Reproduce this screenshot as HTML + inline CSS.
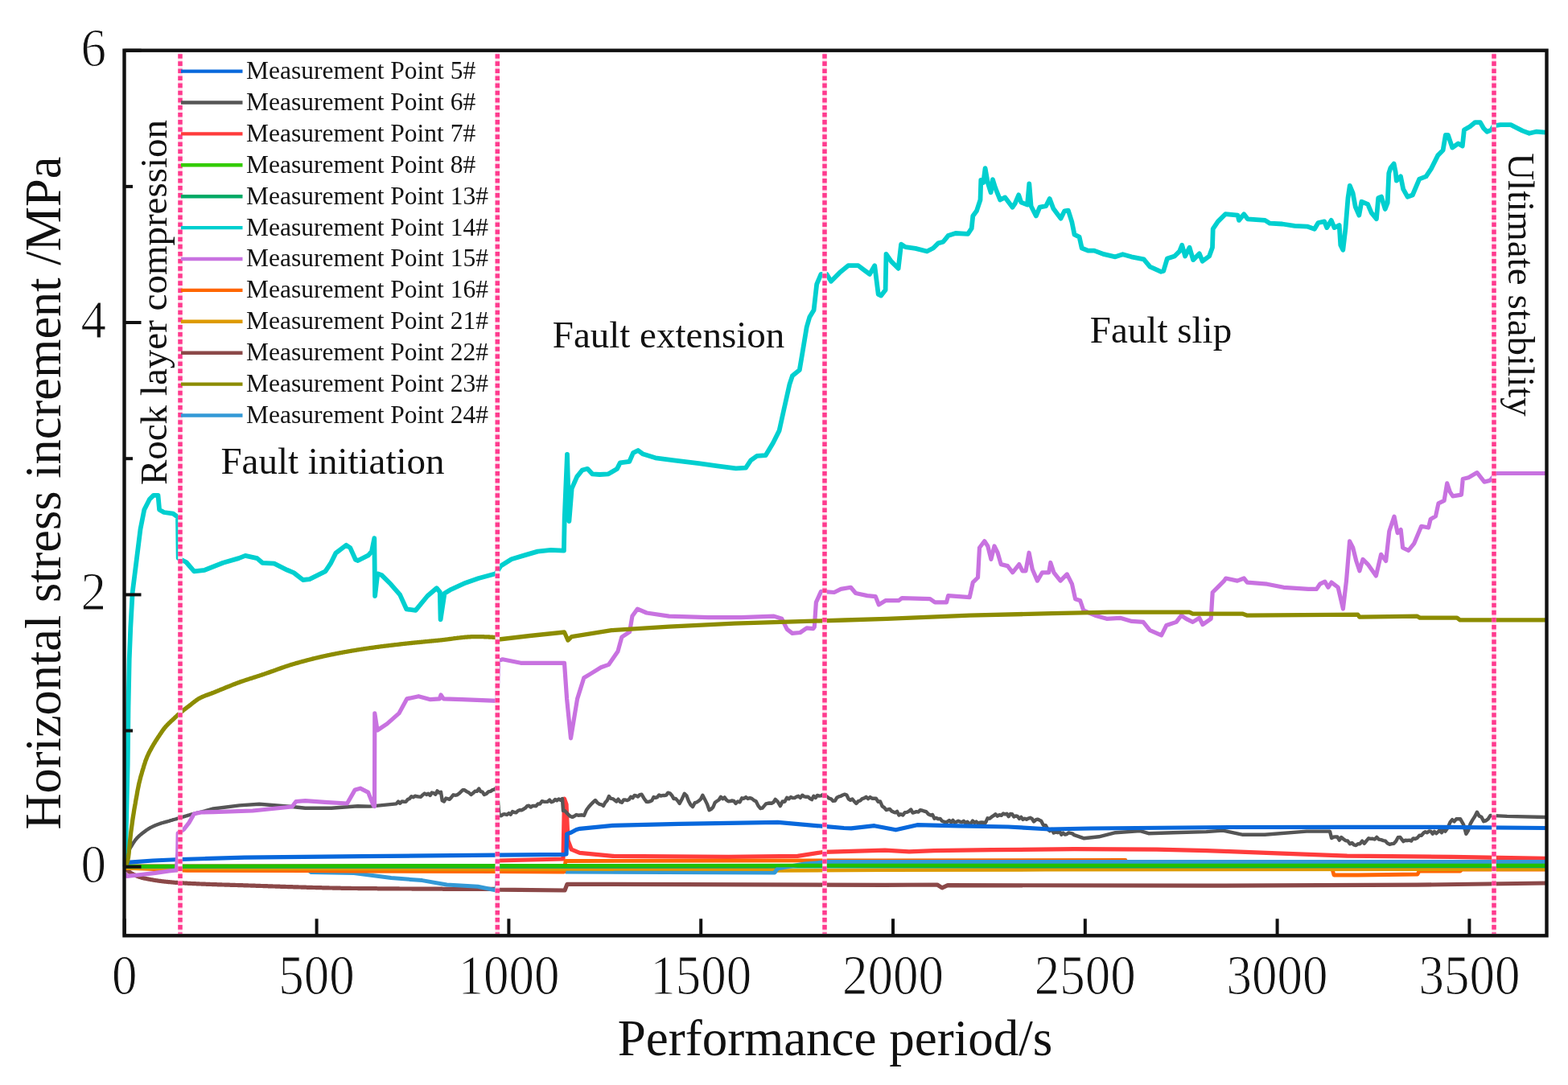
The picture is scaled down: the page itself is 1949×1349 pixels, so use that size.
<!DOCTYPE html>
<html><head><meta charset="utf-8"><title>Horizontal stress increment</title>
<style>html,body{margin:0;padding:0;background:#fff;}body{width:1949px;height:1349px;overflow:hidden;}svg{display:block;filter:blur(0.45px);}</style>
</head><body>
<svg width="1949" height="1349" viewBox="0 0 1949 1349">
<rect x="0" y="0" width="1949" height="1349" fill="#fff"/>
<g>
<polyline points="155.5,1077.0 618.0,1077.0 619.0,1070.0 700.0,1068.0 701.5,993.0 704.0,1000.0 706.0,1045.0 710.3,1056.2 720.5,1060.3 761.6,1064.4 905.2,1065.4 991.4,1064.4 1024.3,1059.3 1100.0,1057.2 1130.0,1058.8 1160.8,1057.7 1232.6,1056.7 1335.2,1055.7 1437.8,1056.1 1500.0,1057.6 1587.2,1060.9 1674.4,1064.2 1805.3,1065.3 1921.0,1067.4" fill="none" stroke="#ff3c3c" stroke-width="5.2" stroke-linejoin="round" stroke-linecap="butt" />
<polyline points="155.5,1078.0 156.2,1079.2 156.8,1080.4 157.5,1081.4 158.2,1082.0 158.8,1082.5 159.5,1083.1 160.2,1083.6 160.8,1084.1 161.5,1084.5 162.2,1085.0 162.8,1085.4 163.5,1085.8 164.2,1086.2 164.8,1086.6 165.5,1087.0 166.2,1087.3 166.8,1087.7 167.5,1088.0 168.2,1088.3 168.8,1088.6 169.5,1088.9 170.2,1089.2 170.8,1089.4 171.5,1089.7 172.1,1089.9 172.8,1090.2 173.5,1090.4 174.1,1090.6 174.8,1090.8 175.5,1091.0 176.1,1091.2 176.8,1091.4 177.5,1091.5 178.1,1091.7 178.8,1091.9 179.5,1092.0 180.1,1092.2 180.8,1092.3 181.5,1092.4 182.1,1092.6 182.8,1092.7 183.5,1092.8 184.1,1093.0 184.8,1093.1 185.5,1093.2 186.1,1093.3 186.8,1093.5 187.5,1093.6 188.1,1093.7 188.8,1093.8 189.5,1093.9 190.1,1094.0 190.8,1094.2 191.5,1094.3 192.1,1094.4 192.8,1094.5 193.5,1094.6 194.1,1094.7 194.8,1094.8 195.5,1094.9 196.1,1095.0 196.8,1095.1 197.5,1095.2 198.1,1095.3 198.8,1095.3 199.5,1095.4 200.1,1095.5 200.8,1095.6 201.5,1095.7 202.1,1095.8 202.8,1095.8 203.4,1095.9 204.1,1096.0 204.8,1096.1 205.4,1096.1 206.1,1096.2 206.8,1096.3 207.4,1096.4 208.1,1096.4 208.8,1096.5 209.4,1096.6 210.1,1096.6 210.8,1096.7 211.4,1096.7 212.1,1096.8 212.8,1096.9 213.4,1096.9 214.1,1097.0 214.8,1097.0 215.4,1097.1 216.1,1097.1 216.8,1097.2 217.4,1097.3 218.1,1097.3 218.8,1097.4 219.4,1097.4 220.1,1097.4 220.8,1097.5 221.4,1097.5 222.1,1097.6 222.8,1097.6 223.4,1097.7 224.1,1097.7 224.8,1097.8 225.4,1097.8 226.1,1097.8 226.8,1097.9 227.4,1097.9 228.1,1098.0 228.8,1098.0 229.4,1098.0 230.1,1098.1 230.8,1098.1 231.4,1098.1 232.1,1098.2 232.7,1098.2 233.4,1098.3 234.1,1098.3 234.7,1098.3 235.4,1098.4 236.1,1098.4 236.7,1098.4 237.4,1098.5 238.1,1098.5 238.7,1098.5 239.4,1098.6 240.1,1098.6 240.7,1098.6 241.4,1098.7 242.1,1098.7 242.7,1098.7 243.4,1098.7 244.1,1098.8 244.7,1098.8 245.4,1098.8 246.1,1098.9 246.7,1098.9 247.4,1098.9 248.1,1099.0 248.7,1099.0 249.4,1099.0 250.1,1099.0 250.7,1099.1 251.4,1099.1 252.1,1099.1 252.7,1099.1 253.4,1099.2 254.1,1099.2 254.7,1099.2 255.4,1099.2 256.1,1099.3 256.7,1099.3 257.4,1099.3 258.1,1099.3 258.7,1099.4 259.4,1099.4 260.1,1099.4 260.7,1099.4 261.4,1099.5 262.1,1099.5 262.7,1099.5 263.4,1099.5 264.0,1099.6 264.7,1099.6 265.4,1099.6 266.0,1099.6 266.7,1099.7 267.4,1099.7 268.0,1099.7 268.7,1099.7 269.4,1099.7 270.0,1099.8 270.7,1099.8 271.4,1099.8 272.0,1099.8 272.7,1099.8 273.4,1099.9 274.0,1099.9 274.7,1099.9 275.4,1099.9 276.0,1100.0 276.7,1100.0 277.4,1100.0 278.0,1100.0 278.7,1100.0 279.4,1100.1 280.0,1100.1 280.7,1100.1 281.4,1100.1 282.0,1100.1 282.7,1100.2 283.4,1100.2 284.0,1100.2 284.7,1100.2 285.4,1100.2 286.0,1100.3 286.7,1100.3 287.4,1100.3 288.0,1100.3 288.7,1100.3 289.4,1100.4 290.0,1100.4 290.7,1100.4 291.4,1100.4 292.0,1100.4 292.7,1100.5 293.4,1100.5 294.0,1100.5 294.7,1100.5 295.3,1100.5 296.0,1100.6 296.7,1100.6 297.3,1100.6 298.0,1100.6 298.7,1100.6 299.3,1100.7 300.0,1100.7 300.7,1100.7 301.3,1100.7 302.0,1100.7 302.7,1100.8 303.3,1100.8 304.0,1100.8 304.7,1100.8 305.3,1100.8 306.0,1100.9 306.7,1100.9 307.3,1100.9 308.0,1100.9 308.7,1101.0 309.3,1101.0 310.0,1101.0 310.7,1101.0 311.3,1101.0 312.0,1101.1 312.7,1101.1 313.3,1101.1 314.0,1101.1 314.7,1101.1 315.3,1101.2 316.0,1101.2 316.7,1101.2 317.3,1101.2 318.0,1101.3 318.7,1101.3 319.3,1101.3 320.0,1101.3 320.7,1101.3 321.3,1101.4 322.0,1101.4 322.7,1101.4 323.3,1101.4 324.0,1101.5 324.7,1101.5 325.3,1101.5 326.0,1101.5 326.6,1101.5 327.3,1101.6 328.0,1101.6 328.6,1101.6 329.3,1101.6 330.0,1101.6 330.6,1101.7 331.3,1101.7 332.0,1101.7 332.6,1101.7 333.3,1101.8 334.0,1101.8 334.6,1101.8 335.3,1101.8 336.0,1101.8 336.6,1101.9 337.3,1101.9 338.0,1101.9 338.6,1101.9 339.3,1102.0 340.0,1102.0 340.6,1102.0 341.3,1102.0 342.0,1102.0 342.6,1102.1 343.3,1102.1 344.0,1102.1 344.6,1102.1 345.3,1102.1 346.0,1102.2 346.6,1102.2 347.3,1102.2 348.0,1102.2 348.6,1102.3 349.3,1102.3 350.0,1102.3 350.6,1102.3 351.3,1102.3 352.0,1102.4 352.6,1102.4 353.3,1102.4 354.0,1102.4 354.6,1102.4 355.3,1102.5 355.9,1102.5 356.6,1102.5 357.3,1102.5 357.9,1102.6 358.6,1102.6 359.3,1102.6 359.9,1102.6 360.6,1102.6 361.3,1102.7 361.9,1102.7 362.6,1102.7 363.3,1102.7 363.9,1102.7 364.6,1102.8 365.3,1102.8 365.9,1102.8 366.6,1102.8 367.3,1102.8 367.9,1102.9 368.6,1102.9 369.3,1102.9 369.9,1102.9 370.6,1102.9 371.3,1103.0 371.9,1103.0 372.6,1103.0 373.3,1103.0 373.9,1103.0 374.6,1103.1 375.3,1103.1 375.9,1103.1 376.6,1103.1 377.3,1103.1 377.9,1103.2 378.6,1103.2 379.3,1103.2 379.9,1103.2 380.6,1103.2 381.3,1103.3 381.9,1103.3 382.6,1103.3 383.3,1103.3 383.9,1103.3 384.6,1103.3 385.3,1103.4 385.9,1103.4 386.6,1103.4 387.2,1103.4 387.9,1103.4 388.6,1103.5 389.2,1103.5 389.9,1103.5 390.6,1103.5 391.2,1103.5 391.9,1103.5 392.6,1103.6 393.2,1103.6 393.9,1103.6 394.6,1103.6 395.2,1103.6 395.9,1103.6 396.6,1103.7 397.2,1103.7 397.9,1103.7 398.6,1103.7 399.2,1103.7 399.9,1103.7 400.6,1103.8 401.2,1103.8 401.9,1103.8 402.6,1103.8 403.2,1103.8 403.9,1103.8 404.6,1103.9 405.2,1103.9 405.9,1103.9 406.6,1103.9 407.2,1103.9 407.9,1103.9 408.6,1103.9 409.2,1104.0 409.9,1104.0 410.6,1104.0 411.2,1104.0 411.9,1104.0 412.6,1104.0 413.2,1104.0 413.9,1104.1 414.6,1104.1 415.2,1104.1 415.9,1104.1 416.6,1104.1 417.2,1104.1 417.9,1104.1 418.5,1104.2 419.2,1104.2 419.9,1104.2 420.5,1104.2 421.2,1104.2 421.9,1104.2 422.5,1104.2 423.2,1104.2 423.9,1104.3 424.5,1104.3 425.2,1104.3 425.9,1104.3 426.5,1104.3 427.2,1104.3 427.9,1104.3 428.5,1104.3 429.2,1104.3 429.9,1104.4 430.5,1104.4 431.2,1104.4 431.9,1104.4 432.5,1104.4 433.2,1104.4 433.9,1104.4 434.5,1104.4 435.2,1104.4 435.9,1104.4 436.5,1104.5 437.2,1104.5 437.9,1104.5 438.5,1104.5 439.2,1104.5 439.9,1104.5 440.5,1104.5 441.2,1104.5 441.9,1104.5 442.5,1104.5 443.2,1104.5 443.9,1104.5 444.5,1104.5 445.2,1104.6 445.9,1104.6 446.5,1104.6 447.2,1104.6 447.8,1104.6 448.5,1104.6 449.2,1104.6 449.8,1104.6 450.5,1104.6 451.2,1104.6 451.8,1104.6 452.5,1104.6 453.2,1104.6 453.8,1104.6 454.5,1104.6 455.2,1104.6 455.8,1104.6 456.5,1104.7 457.2,1104.7 457.8,1104.7 458.5,1104.7 459.2,1104.7 459.8,1104.7 460.5,1104.7 461.2,1104.7 461.8,1104.7 462.5,1104.7 463.2,1104.7 463.8,1104.7 464.5,1104.7 465.2,1104.7 465.8,1104.7 466.5,1104.7 467.2,1104.7 467.8,1104.7 468.5,1104.7 469.2,1104.8 469.8,1104.8 470.5,1104.8 471.2,1104.8 471.8,1104.8 472.5,1104.8 473.2,1104.8 473.8,1104.8 474.5,1104.8 475.2,1104.8 475.8,1104.8 476.5,1104.8 477.2,1104.8 477.8,1104.8 478.5,1104.8 479.1,1104.8 479.8,1104.8 480.5,1104.8 481.1,1104.8 481.8,1104.8 482.5,1104.9 483.1,1104.9 483.8,1104.9 484.5,1104.9 485.1,1104.9 485.8,1104.9 486.5,1104.9 487.1,1104.9 487.8,1104.9 488.5,1104.9 489.1,1104.9 489.8,1104.9 490.5,1104.9 491.1,1104.9 491.8,1104.9 492.5,1104.9 493.1,1104.9 493.8,1104.9 494.5,1104.9 495.1,1104.9 495.8,1104.9 496.5,1105.0 497.1,1105.0 497.8,1105.0 498.5,1105.0 499.1,1105.0 499.8,1105.0 500.5,1105.0 501.1,1105.0 501.8,1105.0 502.5,1105.0 503.1,1105.0 503.8,1105.0 504.5,1105.0 505.1,1105.0 505.8,1105.0 506.5,1105.0 507.1,1105.0 507.8,1105.0 508.5,1105.0 509.1,1105.0 509.8,1105.0 510.4,1105.0 511.1,1105.0 511.8,1105.0 512.4,1105.1 513.1,1105.1 513.8,1105.1 514.4,1105.1 515.1,1105.1 515.8,1105.1 516.4,1105.1 517.1,1105.1 517.8,1105.1 518.4,1105.1 519.1,1105.1 519.8,1105.1 520.4,1105.1 521.1,1105.1 521.8,1105.1 522.4,1105.1 523.1,1105.1 523.8,1105.1 524.4,1105.1 525.1,1105.1 525.8,1105.1 526.4,1105.1 527.1,1105.1 527.8,1105.1 528.4,1105.1 529.1,1105.1 529.8,1105.2 530.4,1105.2 531.1,1105.2 531.8,1105.2 532.4,1105.2 533.1,1105.2 533.8,1105.2 534.4,1105.2 535.1,1105.2 535.8,1105.2 536.4,1105.2 537.1,1105.2 537.8,1105.2 538.4,1105.2 539.1,1105.2 539.8,1105.2 540.4,1105.2 541.1,1105.2 541.7,1105.2 542.4,1105.2 543.1,1105.2 543.7,1105.2 544.4,1105.2 545.1,1105.2 545.7,1105.2 546.4,1105.2 547.1,1105.2 547.7,1105.2 548.4,1105.2 549.1,1105.2 549.7,1105.2 550.4,1105.3 551.1,1105.3 551.7,1105.3 552.4,1105.3 553.1,1105.3 553.7,1105.3 554.4,1105.3 555.1,1105.3 555.7,1105.3 556.4,1105.3 557.1,1105.3 557.7,1105.3 558.4,1105.3 559.1,1105.3 559.7,1105.3 560.4,1105.3 561.1,1105.3 561.7,1105.3 562.4,1105.3 563.1,1105.3 563.7,1105.3 564.4,1105.3 565.1,1105.3 565.7,1105.3 566.4,1105.3 567.1,1105.3 567.7,1105.3 568.4,1105.3 569.1,1105.3 569.7,1105.3 570.4,1105.3 571.0,1105.3 571.7,1105.3 572.4,1105.3 573.0,1105.3 573.7,1105.3 574.4,1105.3 575.0,1105.3 575.7,1105.3 576.4,1105.3 577.0,1105.3 577.7,1105.3 578.4,1105.3 579.0,1105.3 579.7,1105.4 580.4,1105.4 581.0,1105.4 581.7,1105.4 582.4,1105.4 583.0,1105.4 583.7,1105.4 584.4,1105.4 585.0,1105.4 585.7,1105.4 586.4,1105.4 587.0,1105.4 587.7,1105.4 588.4,1105.4 589.0,1105.4 589.7,1105.4 590.4,1105.4 591.0,1105.4 591.7,1105.4 592.4,1105.4 593.0,1105.4 593.7,1105.4 594.4,1105.4 595.0,1105.4 595.7,1105.4 596.4,1105.4 597.0,1105.4 597.7,1105.4 598.4,1105.4 599.0,1105.4 599.7,1105.4 600.4,1105.4 601.0,1105.4 601.7,1105.4 602.3,1105.4 603.0,1105.4 603.7,1105.4 604.3,1105.4 605.0,1105.4 605.7,1105.4 606.3,1105.4 607.0,1105.4 607.7,1105.4 608.3,1105.4 609.0,1105.4 609.7,1105.4 610.3,1105.4 611.0,1105.4 611.7,1105.4 612.3,1105.4 613.0,1105.4 613.7,1105.4 614.3,1105.4 615.0,1105.4 615.7,1105.4 616.3,1105.4 617.0,1105.4 619.0,1106.2 702.0,1107.0 705.0,1099.3 1100.0,1100.3 1165.0,1100.0 1171.0,1103.9 1178.0,1100.6 1500.0,1101.2 1761.7,1100.2 1921.0,1098.0" fill="none" stroke="#8b4848" stroke-width="5.2" stroke-linejoin="round" stroke-linecap="butt" />
<polyline points="155.5,1078.0 380.0,1080.0 387.0,1084.6 440.0,1085.4 486.2,1091.6 524.7,1094.6 555.4,1100.0 593.9,1102.3 617.0,1107.0 619.0,1082.5 701.0,1082.5 704.0,1084.0 962.7,1084.9 966.8,1079.8" fill="none" stroke="#3399d6" stroke-width="5.0" stroke-linejoin="round" stroke-linecap="butt" />
<polyline points="155.5,1079.0 233.0,1082.3 385.0,1082.5 440.0,1083.1 618.0,1083.5 701.0,1084.0 703.0,1070.5 1100.0,1069.8 1399.0,1069.5 1401.0,1080.5 1656.0,1080.5 1658.0,1088.0 1688.0,1088.0 1762.0,1087.0 1764.0,1083.0 1815.0,1083.0 1817.0,1081.0 1921.0,1081.0" fill="none" stroke="#ff6600" stroke-width="4.8" stroke-linejoin="round" stroke-linecap="butt" />
<polyline points="155.5,1079.5 700.0,1080.5 962.0,1080.8 966.0,1082.5 1100.0,1081.8 1300.0,1081.3 1921.0,1080.5" fill="none" stroke="#dd9a00" stroke-width="4.6" stroke-linejoin="round" stroke-linecap="butt" />
<polyline points="155.5,1077.5 1921.0,1077.0" fill="none" stroke="#00aa66" stroke-width="4.6" stroke-linejoin="round" stroke-linecap="butt" />
<polyline points="962.7,1084.9 966.8,1079.8 1000.0,1074.0 1030.0,1071.6 1921.0,1071.5" fill="none" stroke="#3399d6" stroke-width="5.0" stroke-linejoin="round" stroke-linecap="butt" />
<polyline points="155.5,1077.0 400.0,1076.5 1000.0,1076.0 1921.0,1076.0" fill="none" stroke="#22c000" stroke-width="4.6" stroke-linejoin="round" stroke-linecap="butt" />
<polyline points="155.5,1077.7 156.2,1073.1 156.8,1068.8 157.5,1065.2 158.2,1062.4 158.8,1060.5 159.5,1058.8 160.2,1057.4 160.8,1056.2 161.5,1055.0 162.1,1053.9 162.8,1052.8 163.5,1051.7 164.1,1050.6 164.8,1049.5 165.5,1048.4 166.1,1047.4 166.8,1046.4 167.5,1045.4 168.1,1044.5 168.8,1043.7 169.5,1042.9 170.1,1042.1 170.8,1041.4 171.5,1040.7 172.1,1040.1 172.8,1039.5 173.4,1038.9 174.1,1038.3 174.8,1037.7 175.4,1037.2 176.1,1036.6 176.8,1036.1 177.4,1035.6 178.1,1035.1 178.8,1034.6 179.4,1034.1 180.1,1033.6 180.8,1033.1 181.4,1032.6 182.1,1032.1 182.8,1031.7 183.4,1031.2 184.1,1030.8 184.7,1030.4 185.4,1030.0 186.1,1029.6 186.7,1029.2 187.4,1028.8 188.1,1028.5 188.7,1028.2 189.4,1027.8 190.1,1027.5 190.7,1027.2 191.4,1026.9 192.1,1026.6 192.7,1026.3 193.4,1026.1 194.1,1025.8 194.7,1025.5 195.4,1025.3 196.0,1025.0 196.7,1024.8 197.4,1024.5 198.0,1024.3 198.7,1024.1 199.4,1023.8 200.0,1023.6 200.7,1023.4 201.4,1023.2 202.0,1023.0 202.7,1022.8 203.4,1022.6 204.0,1022.4 204.7,1022.3 205.4,1022.1 206.0,1021.9 206.7,1021.7 207.4,1021.6 208.0,1021.4 208.7,1021.2 209.3,1021.0 210.0,1020.8 210.7,1020.6 211.3,1020.4 212.0,1020.2 212.7,1020.0 213.3,1019.8 214.0,1019.6 214.7,1019.4 215.3,1019.2 216.0,1019.0 216.7,1018.8 217.3,1018.7 218.0,1018.5 218.7,1018.3 219.3,1018.1 220.0,1017.9 220.6,1017.7 221.3,1017.5 222.0,1017.3 222.6,1017.1 223.3,1016.9 224.0,1016.7 224.6,1016.5 225.3,1016.3 226.0,1016.1 226.6,1015.9 227.3,1015.7 228.0,1015.5 228.6,1015.3 229.3,1015.1 230.0,1014.9 230.6,1014.7 231.3,1014.5 231.9,1014.3 232.6,1014.1 233.3,1013.9 233.9,1013.7 234.6,1013.5 235.3,1013.3 235.9,1013.1 236.6,1012.9 237.3,1012.7 237.9,1012.5 238.6,1012.4 239.3,1012.2 239.9,1012.0 240.6,1011.9 241.3,1011.7 241.9,1011.5 242.6,1011.4 243.2,1011.2 243.9,1011.0 244.6,1010.9 245.2,1010.7 245.9,1010.6 246.6,1010.4 247.2,1010.2 247.9,1010.1 265.2,1005.5 297.8,1001.4 322.3,999.8 363.0,1003.0 379.4,1004.7 412.0,1004.7 444.6,1002.2 460.0,1002.6 492.6,999.4 495.0,996.6 497.3,998.8 499.7,996.4 502.0,996.7 504.4,996.9 506.7,994.1 509.1,993.0 511.4,990.2 513.8,991.2 516.1,989.7 518.5,990.3 520.8,990.6 523.1,990.7 525.4,988.4 527.8,986.5 530.1,988.0 532.3,986.7 534.6,989.0 536.8,985.5 539.0,986.1 541.3,987.8 543.5,983.4 545.8,985.6 548.0,984.7 549.7,995.3 552.0,996.5 554.3,992.5 556.5,993.1 558.8,993.8 561.1,991.2 563.4,988.3 565.8,988.7 568.1,988.4 570.4,986.8 572.7,984.6 575.1,982.2 577.4,982.2 580.1,984.1 582.8,985.5 585.5,988.0 588.0,986.1 590.4,983.7 592.8,983.9 595.3,980.6 597.5,984.2 599.7,984.7 601.9,988.0 604.5,987.0 607.1,984.4 609.7,983.8 612.3,982.1 614.9,981.4 617.3,979.0 620.6,1014.0 623.0,1014.2 625.3,1012.4 627.6,1012.3 630.0,1013.0 632.4,1011.1 634.7,1012.8 637.0,1009.1 639.4,1010.0 641.7,1010.2 643.9,1008.0 646.2,1007.2 648.4,1007.3 650.7,1006.0 652.9,1004.7 655.2,1002.1 657.4,1001.7 659.7,1003.6 661.9,1002.0 664.2,1001.9 666.4,1002.2 668.7,999.4 671.2,999.6 673.6,996.2 676.0,996.7 678.5,996.9 680.8,996.7 683.1,994.6 685.4,997.2 687.7,996.5 690.0,994.0 692.2,995.3 694.5,993.4 696.8,994.8 699.0,993.0 700.0,1008.0 702.2,1008.1 704.5,1010.7 706.8,1013.1 709.0,1015.0 711.4,1015.9 713.9,1014.7 716.3,1013.0 718.7,1013.7 721.1,1013.5 723.6,1013.3 726.0,1014.0 729.0,1007.0 732.0,1003.0 734.7,1000.0 737.3,997.4 740.0,995.0 742.5,998.0 745.0,999.8 747.5,1000.3 750.0,1002.0 752.3,997.8 754.7,995.2 757.0,990.0 759.3,992.9 761.6,993.1 763.9,994.8 766.2,996.5 768.5,993.7 770.8,996.9 773.0,997.8 775.2,994.4 777.5,994.5 779.7,995.1 781.9,994.0 784.1,990.7 786.4,992.2 788.6,988.9 790.8,989.4 793.0,990.6 795.3,988.1 797.5,987.7 800.5,992.7 803.6,996.9 805.8,997.0 808.0,996.4 810.3,995.2 812.5,991.0 814.7,991.9 817.0,991.1 819.2,988.4 821.4,989.6 823.6,989.0 825.8,989.0 828.1,988.6 830.3,985.7 832.7,986.3 835.1,988.9 837.5,993.1 839.9,992.9 842.3,995.6 844.7,999.0 847.8,993.2 850.8,986.7 853.4,989.3 856.0,996.1 858.5,1000.6 861.1,1003.1 863.6,998.2 866.0,997.5 868.5,995.8 870.9,993.7 873.4,988.7 876.1,993.9 878.9,999.6 881.6,1007.2 884.0,1006.1 886.4,1003.5 888.8,997.7 891.2,996.0 893.6,994.5 896.0,990.8 898.3,993.3 900.6,991.4 902.9,994.6 905.2,996.3 907.6,996.1 909.9,995.5 912.2,995.9 914.5,999.0 917.0,996.5 919.6,997.3 922.2,992.3 924.7,992.8 927.2,991.1 929.6,993.0 932.1,992.1 934.5,992.9 937.0,994.9 939.7,996.2 942.5,1001.9 945.2,1005.2 947.5,1004.7 949.8,1002.1 952.1,999.4 954.5,998.8 956.8,998.5 959.1,998.7 961.4,997.5 963.7,993.9 966.8,996.9 969.9,1002.1 972.6,996.5 975.4,996.7 978.1,991.8 980.5,993.3 982.9,991.0 985.2,992.0 987.6,992.1 990.0,990.6 992.4,989.8 994.8,991.9 997.2,988.7 999.6,990.3 1002.0,990.8 1004.4,990.6 1006.8,992.8 1009.1,994.1 1011.4,989.7 1013.7,992.0 1016.0,988.9 1018.4,989.6 1020.7,989.4 1023.0,987.8 1025.3,988.7 1027.8,990.6 1030.4,992.5 1033.0,993.3 1035.5,995.9 1037.9,995.6 1040.3,991.7 1042.7,990.4 1045.1,989.8 1047.5,988.5 1049.9,987.7 1052.3,988.3 1054.7,993.3 1057.1,994.8 1059.5,993.5 1061.9,996.5 1064.3,999.0 1066.8,996.2 1069.2,995.5 1071.7,993.1 1074.1,992.4 1076.6,990.8 1079.1,993.1 1081.5,991.1 1084.0,992.7 1086.4,992.8 1088.9,992.8 1091.5,996.7 1094.1,996.5 1096.6,1002.4 1099.2,1004.1 1101.5,1007.0 1103.8,1006.4 1106.0,1005.9 1108.3,1008.5 1110.6,1009.6 1112.9,1010.3 1115.1,1008.9 1117.4,1013.5 1119.7,1012.3 1122.3,1013.4 1124.8,1010.1 1127.4,1009.9 1130.0,1008.5 1132.3,1006.5 1134.6,1010.6 1136.9,1009.9 1139.2,1009.1 1141.6,1009.6 1143.9,1007.1 1146.2,1007.7 1148.5,1008.5 1151.2,1009.1 1154.0,1012.3 1156.7,1013.6 1159.1,1013.0 1161.5,1017.7 1163.8,1017.0 1166.2,1018.2 1168.6,1017.9 1171.0,1020.8 1173.2,1021.7 1175.5,1022.4 1177.7,1021.6 1179.9,1020.0 1182.2,1022.5 1184.4,1019.8 1186.6,1022.8 1188.9,1021.9 1191.1,1020.7 1193.3,1021.7 1195.6,1022.3 1197.8,1020.8 1200.1,1023.5 1202.3,1021.7 1204.5,1023.8 1206.8,1023.7 1209.0,1020.5 1211.2,1023.0 1213.5,1021.6 1215.7,1023.7 1217.9,1022.8 1220.2,1022.5 1222.4,1022.8 1225.0,1022.8 1227.5,1017.3 1230.0,1017.7 1232.6,1015.7 1235.0,1014.2 1237.4,1012.3 1239.8,1014.7 1242.2,1013.2 1244.6,1013.9 1247.0,1011.5 1249.2,1012.4 1251.5,1011.8 1253.7,1015.2 1255.9,1011.9 1258.1,1012.1 1260.3,1015.6 1262.6,1014.5 1264.8,1015.0 1267.0,1017.8 1269.2,1015.9 1271.5,1018.9 1273.7,1017.7 1276.0,1018.7 1278.3,1017.6 1280.5,1016.8 1282.8,1018.0 1285.1,1021.5 1287.4,1019.3 1289.6,1018.6 1291.9,1019.6 1294.2,1020.8 1296.9,1026.0 1299.7,1026.1 1302.4,1031.0 1304.9,1033.1 1307.3,1031.1 1309.8,1035.6 1312.2,1034.5 1314.7,1035.2 1317.0,1033.5 1319.3,1037.8 1321.5,1035.6 1323.8,1037.6 1326.1,1037.0 1328.4,1035.4 1330.6,1035.8 1332.9,1036.3 1335.2,1038.2 1347.5,1042.3 1366.0,1040.3 1386.5,1035.2 1417.3,1033.1 1427.6,1036.2 1458.4,1035.2 1499.4,1034.1 1520.0,1032.6 1544.9,1037.8 1572.0,1037.8 1623.9,1033.6 1653.0,1033.6 1655.1,1042.0 1657.5,1040.7 1659.9,1040.4 1662.3,1040.5 1664.8,1044.6 1667.2,1041.0 1669.6,1043.0 1672.4,1045.1 1675.1,1045.5 1677.9,1049.2 1680.4,1047.9 1682.9,1050.4 1685.4,1051.1 1687.9,1049.1 1690.4,1049.2 1693.2,1045.7 1695.9,1048.7 1698.7,1045.1 1701.2,1042.3 1703.7,1042.9 1706.2,1042.8 1708.7,1043.5 1711.2,1040.9 1714.0,1043.7 1716.7,1044.2 1719.5,1045.1 1722.1,1045.7 1724.7,1048.6 1727.3,1049.8 1729.9,1049.2 1732.5,1048.8 1735.1,1046.0 1737.7,1041.2 1740.3,1040.9 1744.4,1046.1 1746.8,1044.7 1749.3,1045.0 1751.7,1044.6 1754.1,1045.5 1756.6,1042.4 1759.0,1043.0 1761.6,1041.9 1764.2,1038.8 1766.8,1038.7 1769.4,1035.7 1771.7,1034.2 1773.9,1035.2 1776.2,1033.4 1778.4,1033.7 1780.7,1036.7 1782.9,1033.8 1785.2,1036.2 1787.4,1034.4 1789.7,1032.1 1791.9,1035.2 1794.2,1031.8 1796.4,1033.6 1799.5,1029.3 1802.6,1022.2 1805.1,1019.2 1807.6,1021.3 1810.1,1018.3 1812.6,1018.2 1815.1,1018.1 1819.2,1025.3 1822.4,1036.8 1825.0,1032.5 1827.6,1024.3 1830.4,1019.4 1833.1,1015.3 1835.9,1009.7 1838.7,1014.6 1841.4,1015.7 1844.2,1021.2 1847.0,1020.3 1849.7,1018.2 1852.5,1013.9 1873.3,1014.9 1921.0,1016.0" fill="none" stroke="#555555" stroke-width="4.4" stroke-linejoin="round" stroke-linecap="butt" />
<polyline points="155.5,1077.7 157.7,1072.3 190.0,1070.0 223.9,1068.5 303.9,1066.2 450.0,1064.6 617.0,1063.1 701.0,1062.3 704.0,1062.0 704.6,1036.9 710.0,1035.0 716.4,1031.5 720.9,1030.3 761.6,1026.4 843.7,1024.4 966.8,1022.3 1024.3,1027.4 1048.9,1029.5 1058.1,1029.8 1086.8,1026.7 1113.5,1031.8 1140.0,1025.7 1191.6,1026.9 1253.1,1028.0 1304.4,1031.0 1355.8,1030.0 1530.0,1028.5 1665.5,1028.4 1790.2,1028.4 1921.0,1029.5" fill="none" stroke="#0868dc" stroke-width="5.2" stroke-linejoin="round" stroke-linecap="butt" />
<polyline points="155.5,1077.7 156.5,1040.0 157.5,1000.0 158.7,950.0 159.5,880.0 160.7,820.0 162.3,780.0 164.7,736.5 169.6,697.4 174.5,658.0 179.3,633.8 185.9,620.8 190.8,615.9 196.5,615.9 198.1,633.8 203.8,637.0 215.2,638.7 221.0,642.8 221.7,694.0 231.5,699.0 241.3,710.4 254.4,708.8 277.2,699.8 296.7,694.1 304.9,690.9 319.6,694.1 326.1,699.8 340.8,700.7 357.1,708.8 365.2,712.1 376.6,721.0 384.8,720.2 404.4,710.4 410.9,700.7 417.4,687.6 430.4,677.8 435.3,681.1 441.9,695.8 444.9,697.0 457.9,690.4 462.0,685.6 465.3,669.2 466.1,741.0 469.3,713.3 474.2,714.9 485.7,726.3 497.1,739.4 505.2,757.3 516.6,758.9 531.3,741.0 542.7,731.2 546.8,736.1 547.6,770.3 552.5,737.7 560.7,732.8 578.6,724.7 594.9,719.0 616.1,713.3 622.6,703.5 635.7,695.3 652.0,690.4 668.3,685.6 684.6,683.9 700.9,684.7 701.7,644.8 705.0,564.9 707.4,648.0 710.7,607.3 717.2,592.6 723.7,584.5 730.2,582.8 736.2,589.3 745.4,590.0 756.2,589.3 766.9,583.1 770.8,575.4 782.3,573.9 787.0,563.1 793.1,560.0 799.3,564.6 814.7,569.3 837.7,572.3 868.5,576.2 891.6,579.3 914.7,582.3 927.0,581.6 933.2,572.3 940.9,566.9 951.6,566.2 960.9,550.8 968.6,535.4 974.2,510.0 981.4,477.9 984.9,467.3 993.8,460.1 997.4,438.8 1002.7,406.8 1006.3,394.3 1011.6,385.4 1015.2,353.4 1020.5,340.9 1027.6,340.9 1033.0,349.8 1043.6,339.1 1054.3,330.2 1066.8,330.2 1073.9,335.6 1081.0,340.9 1087.2,330.2 1091.7,365.8 1095.2,367.6 1100.6,360.5 1101.5,316.0 1107.7,324.9 1116.6,333.8 1120.1,303.6 1125.5,307.1 1137.9,308.9 1152.2,312.5 1160.0,308.5 1166.2,302.4 1172.3,300.8 1178.5,293.1 1187.7,290.0 1203.1,290.8 1207.7,283.9 1209.3,268.5 1213.9,262.3 1218.5,248.5 1219.3,223.9 1222.3,226.9 1224.6,209.2 1227.7,226.9 1231.6,239.3 1233.9,223.1 1237.0,233.1 1243.1,248.5 1249.3,245.4 1258.5,257.7 1261.6,253.1 1266.2,242.3 1269.3,251.6 1277.0,254.6 1279.3,228.5 1281.6,256.2 1287.8,268.5 1292.4,257.7 1300.1,256.2 1304.7,247.0 1309.3,259.3 1313.9,265.4 1318.5,271.6 1323.2,262.3 1327.8,261.6 1332.4,276.2 1335.5,291.6 1341.6,294.7 1344.7,308.5 1352.4,311.6 1360.1,311.6 1372.4,316.2 1386.3,319.3 1395.5,316.2 1406.3,319.3 1421.7,322.4 1429.4,331.6 1443.2,337.8 1446.2,337.0 1450.8,321.6 1460.0,318.5 1466.2,312.4 1469.2,304.7 1473.1,318.5 1478.5,307.7 1483.1,323.1 1490.8,315.4 1494.6,324.7 1503.1,318.5 1507.0,307.7 1507.7,284.7 1513.9,275.4 1523.1,266.2 1538.5,267.7 1540.0,273.9 1546.2,266.2 1550.8,272.3 1572.4,273.9 1578.5,277.7 1593.9,278.5 1609.3,280.8 1624.7,281.6 1633.9,284.7 1638.5,277.0 1646.2,275.4 1649.3,283.1 1654.7,273.9 1658.6,283.1 1664.7,280.0 1666.3,304.7 1669.3,310.8 1672.4,284.7 1675.5,246.2 1677.8,230.8 1681.6,240.0 1684.7,257.0 1689.3,267.7 1692.4,250.8 1700.1,253.9 1704.7,264.6 1710.9,272.3 1713.2,246.2 1717.0,244.6 1721.7,260.0 1724.7,252.3 1726.3,215.4 1728.4,208.9 1732.6,203.6 1734.7,214.1 1735.8,224.7 1741.0,219.4 1744.2,235.2 1749.5,244.7 1755.8,242.5 1764.2,222.6 1772.6,219.4 1778.9,209.9 1787.3,193.1 1793.6,186.8 1796.8,167.9 1799.9,167.9 1805.2,183.6 1812.6,178.4 1817.8,181.5 1819.9,161.6 1827.3,157.3 1833.6,152.1 1839.9,152.1 1844.1,159.5 1848.3,163.7 1853.6,161.6 1856.7,156.3 1865.2,155.2 1877.8,155.2 1884.1,158.4 1892.5,162.6 1900.9,165.8 1909.3,163.7 1921.0,164.7" fill="none" stroke="#00cfcf" stroke-width="5.8" stroke-linejoin="round" stroke-linecap="butt" />
<polyline points="155.5,1086.0 157.7,1089.3 175.0,1087.5 193.1,1085.4 210.0,1083.0 219.5,1082.0 220.8,1060.0 221.2,1036.0 228.3,1031.3 234.8,1023.1 241.4,1011.7 250.0,1010.0 265.2,1009.6 314.1,1008.0 363.0,1003.0 367.9,996.5 379.4,995.7 403.8,997.3 431.5,999.0 441.3,981.9 447.8,980.2 457.6,985.1 464.1,1001.4 465.5,1002.6 465.8,886.9 469.0,908.0 481.2,899.9 495.9,886.9 505.7,868.9 520.3,865.7 535.0,869.7 546.4,868.9 548.0,864.0 551.3,868.9 574.1,869.7 618.0,871.4 619.5,821.6 624.7,819.8 647.3,824.3 701.5,824.3 704.6,868.9 709.5,917.8 717.6,868.9 725.8,842.8 733.9,837.9 747.0,829.8 756.5,826.4 767.9,810.1 772.8,792.2 782.6,785.7 785.9,766.1 792.4,757.1 803.8,762.0 831.5,766.1 880.4,767.7 921.2,767.7 962.0,766.1 971.8,769.3 978.3,782.4 984.8,787.3 994.6,786.5 1002.7,780.8 1010.9,781.6 1012.3,779.6 1014.4,748.8 1020.5,735.4 1036.9,736.5 1045.2,732.4 1057.5,730.3 1063.6,737.5 1078.0,740.6 1088.2,741.6 1092.4,751.9 1100.6,746.7 1117.0,746.7 1121.1,743.6 1156.0,744.7 1162.1,748.8 1176.5,748.8 1178.6,740.6 1205.2,742.6 1209.3,724.1 1215.5,718.0 1217.5,681.0 1223.7,672.8 1227.8,679.0 1231.9,695.4 1236.0,679.0 1240.1,687.2 1244.2,701.6 1252.4,703.6 1258.6,711.8 1266.8,701.6 1270.9,709.8 1275.0,709.8 1279.1,687.2 1283.2,707.7 1289.4,722.1 1295.5,711.8 1303.7,711.8 1305.8,699.5 1309.9,711.8 1318.1,722.1 1326.3,713.9 1332.5,726.2 1336.6,744.7 1342.7,746.7 1346.8,759.0 1361.2,765.2 1375.6,769.3 1392.3,768.3 1406.7,772.4 1421.0,773.4 1429.3,783.7 1443.6,789.8 1449.8,777.5 1462.1,773.4 1468.3,765.2 1474.4,769.3 1482.6,773.4 1490.8,768.3 1494.9,776.5 1505.2,769.3 1507.2,736.5 1513.4,730.3 1521.6,722.1 1523.7,719.0 1538.0,722.1 1546.2,719.0 1550.3,724.1 1575.0,726.2 1595.5,730.3 1626.3,732.4 1636.5,732.4 1640.6,726.2 1646.8,723.1 1650.9,730.3 1655.0,724.1 1663.2,730.3 1669.4,757.0 1673.5,722.1 1677.6,672.8 1681.7,681.0 1685.8,697.5 1689.9,709.8 1694.0,695.4 1700.2,701.6 1710.4,715.9 1716.6,689.3 1722.7,697.5 1726.8,660.5 1733.0,642.1 1737.1,662.6 1741.2,658.5 1743.6,681.0 1750.7,684.5 1757.8,675.6 1766.7,654.3 1775.6,656.0 1778.2,645.4 1784.5,641.8 1788.0,625.8 1795.1,622.3 1798.7,600.9 1802.3,611.6 1805.8,616.9 1816.5,615.1 1818.3,595.6 1825.4,593.8 1836.0,587.6 1845.0,599.1 1852.1,597.4 1859.2,588.5 1882.3,588.5 1921.0,588.5" fill="none" stroke="#c872e0" stroke-width="5.2" stroke-linejoin="round" stroke-linecap="butt" />
<polyline points="155.5,1077.7 156.2,1076.5 156.8,1075.1 157.5,1073.5 158.2,1071.8 158.8,1069.5 159.5,1065.9 160.2,1060.1 160.8,1053.1 161.5,1046.0 162.2,1039.7 162.8,1034.3 163.5,1029.2 164.2,1024.2 164.8,1019.5 165.5,1015.0 166.2,1010.8 166.8,1006.7 167.5,1002.8 168.2,999.0 168.8,995.2 169.5,991.5 170.2,987.7 170.8,984.0 171.5,980.5 172.2,977.1 172.8,974.1 173.5,971.3 174.2,968.6 174.8,966.1 175.5,963.7 176.2,961.4 176.8,959.1 177.5,956.9 178.2,954.7 178.8,952.5 179.5,950.4 180.2,948.3 180.8,946.3 181.5,944.5 182.2,942.7 182.8,941.1 183.5,939.5 184.2,938.1 184.8,936.7 185.5,935.3 186.2,934.0 186.8,932.8 187.5,931.6 188.2,930.4 188.8,929.2 189.5,928.0 190.2,926.8 190.8,925.7 191.5,924.6 192.2,923.5 192.8,922.4 193.5,921.3 194.2,920.3 194.8,919.3 195.5,918.2 196.2,917.2 196.8,916.2 197.5,915.2 198.2,914.2 198.8,913.2 199.5,912.2 200.2,911.2 200.8,910.3 201.5,909.3 202.1,908.3 202.8,907.4 203.5,906.5 204.1,905.7 204.8,904.8 205.5,904.0 206.1,903.3 206.8,902.5 207.5,901.8 208.1,901.1 208.8,900.4 209.5,899.8 210.1,899.1 210.8,898.5 211.5,897.9 212.1,897.2 212.8,896.6 213.5,896.0 214.1,895.4 214.8,894.8 215.5,894.1 216.1,893.5 216.8,892.9 217.5,892.2 218.1,891.6 218.8,891.0 219.5,890.3 220.1,889.7 220.8,889.1 221.5,888.5 222.1,887.9 222.8,887.3 223.5,886.7 224.1,886.1 224.8,885.6 225.5,885.0 226.1,884.5 226.8,884.0 227.5,883.4 228.1,882.9 228.8,882.4 229.5,881.9 230.1,881.4 230.8,880.9 231.5,880.4 232.1,879.9 232.8,879.4 233.5,878.9 234.1,878.4 234.8,877.9 235.5,877.4 236.1,876.9 236.8,876.3 237.5,875.8 238.1,875.3 238.8,874.7 239.5,874.2 240.1,873.6 240.8,873.1 241.5,872.6 242.1,872.1 242.8,871.6 243.5,871.1 244.1,870.6 244.8,870.1 245.5,869.7 246.1,869.2 246.8,868.8 247.5,868.4 248.1,868.1 248.8,867.7 249.5,867.4 250.1,867.1 250.8,866.8 251.5,866.5 252.1,866.2 252.8,865.9 253.5,865.6 254.1,865.4 254.8,865.1 255.5,864.8 256.1,864.6 256.8,864.3 257.5,864.1 258.1,863.8 258.8,863.6 259.5,863.4 260.1,863.1 260.8,862.9 261.5,862.6 262.1,862.4 262.8,862.1 263.5,861.9 264.1,861.6 264.8,861.4 265.5,861.1 266.1,860.8 266.8,860.6 267.5,860.3 268.1,860.0 268.8,859.7 269.5,859.5 270.1,859.2 270.8,858.9 271.5,858.7 272.1,858.4 272.8,858.1 273.5,857.8 274.1,857.6 274.8,857.3 275.5,857.0 276.1,856.7 276.8,856.5 277.5,856.2 278.1,855.9 278.8,855.6 279.5,855.4 280.1,855.1 280.8,854.8 281.5,854.5 282.1,854.3 282.8,854.0 283.5,853.7 284.1,853.5 284.8,853.2 285.5,852.9 286.1,852.7 286.8,852.4 287.5,852.1 288.1,851.9 288.8,851.6 289.5,851.3 290.1,851.1 290.8,850.8 291.5,850.6 292.1,850.3 292.8,850.1 293.5,849.8 294.1,849.6 294.8,849.3 295.4,849.1 296.1,848.8 296.8,848.6 297.4,848.3 298.1,848.1 298.8,847.8 299.4,847.6 300.1,847.4 300.8,847.1 301.4,846.9 302.1,846.7 302.8,846.5 303.4,846.2 304.1,846.0 304.8,845.8 305.4,845.6 306.1,845.3 306.8,845.1 307.4,844.9 308.1,844.7 308.8,844.5 309.4,844.2 310.1,844.0 310.8,843.8 311.4,843.6 312.1,843.4 312.8,843.2 313.4,843.0 314.1,842.7 314.8,842.5 315.4,842.3 316.1,842.1 316.8,841.9 317.4,841.7 318.1,841.5 318.8,841.3 319.4,841.0 320.1,840.8 320.8,840.6 321.4,840.4 322.1,840.2 322.8,840.0 323.4,839.7 324.1,839.5 324.8,839.3 325.4,839.1 326.1,838.9 326.8,838.6 327.4,838.4 328.1,838.2 328.8,838.0 329.4,837.7 330.1,837.5 330.8,837.3 331.4,837.0 332.1,836.8 332.8,836.6 333.4,836.3 334.1,836.1 334.8,835.9 335.4,835.6 336.1,835.4 336.8,835.2 337.4,834.9 338.1,834.7 338.8,834.4 339.4,834.2 340.1,834.0 340.8,833.7 341.4,833.5 342.1,833.2 342.8,833.0 343.4,832.8 344.1,832.5 344.8,832.3 345.4,832.0 346.1,831.8 346.8,831.6 347.4,831.3 348.1,831.1 348.8,830.9 349.4,830.6 350.1,830.4 350.8,830.2 351.4,829.9 352.1,829.7 352.8,829.5 353.4,829.2 354.1,829.0 354.8,828.8 355.4,828.5 356.1,828.3 356.8,828.1 357.4,827.9 358.1,827.7 358.8,827.5 359.4,827.2 360.1,827.0 360.8,826.8 361.4,826.6 362.1,826.4 362.8,826.2 363.4,826.0 364.1,825.8 364.8,825.6 365.4,825.4 366.1,825.2 366.8,825.0 367.4,824.8 368.1,824.6 368.8,824.4 369.4,824.3 370.1,824.1 370.8,823.9 371.4,823.7 372.1,823.5 372.8,823.3 373.4,823.1 374.1,823.0 374.8,822.8 375.4,822.6 376.1,822.4 376.8,822.2 377.4,822.0 378.1,821.9 378.8,821.7 379.4,821.5 380.1,821.3 380.8,821.2 381.4,821.0 382.1,820.8 382.8,820.6 383.4,820.5 384.1,820.3 384.8,820.1 385.4,819.9 386.1,819.8 386.8,819.6 387.4,819.4 388.1,819.3 388.7,819.1 389.4,818.9 390.1,818.8 390.7,818.6 391.4,818.5 392.1,818.3 392.7,818.1 393.4,818.0 394.1,817.8 394.7,817.7 395.4,817.5 396.1,817.3 396.7,817.2 397.4,817.0 398.1,816.9 398.7,816.7 399.4,816.6 400.1,816.4 400.7,816.3 401.4,816.1 402.1,816.0 402.7,815.8 403.4,815.7 404.1,815.5 404.7,815.4 405.4,815.2 406.1,815.1 406.7,814.9 407.4,814.8 408.1,814.7 408.7,814.5 409.4,814.4 410.1,814.2 410.7,814.1 411.4,814.0 412.1,813.8 412.7,813.7 413.4,813.6 414.1,813.4 414.7,813.3 415.4,813.2 416.1,813.0 416.7,812.9 417.4,812.8 418.1,812.6 418.7,812.5 419.4,812.4 420.1,812.3 420.7,812.1 421.4,812.0 422.1,811.9 422.7,811.7 423.4,811.6 424.1,811.5 424.7,811.4 425.4,811.3 426.1,811.1 426.7,811.0 427.4,810.9 428.1,810.8 428.7,810.6 429.4,810.5 430.1,810.4 430.7,810.3 431.4,810.2 432.1,810.1 432.7,809.9 433.4,809.8 434.1,809.7 434.7,809.6 435.4,809.5 436.1,809.4 436.7,809.2 437.4,809.1 438.1,809.0 438.7,808.9 439.4,808.8 440.1,808.7 440.7,808.6 441.4,808.5 442.1,808.4 442.7,808.3 443.4,808.1 444.1,808.0 444.7,807.9 445.4,807.8 446.1,807.7 446.7,807.6 447.4,807.5 448.1,807.4 448.7,807.3 449.4,807.2 450.1,807.1 450.7,807.0 451.4,806.9 452.1,806.8 452.7,806.7 453.4,806.6 454.1,806.5 454.7,806.4 455.4,806.3 456.1,806.2 456.7,806.1 457.4,806.0 458.1,805.9 458.7,805.8 459.4,805.7 460.1,805.6 460.7,805.5 461.4,805.4 462.1,805.3 462.7,805.3 463.4,805.2 464.1,805.1 464.7,805.0 465.4,804.9 466.1,804.8 466.7,804.7 467.4,804.6 468.1,804.5 468.7,804.4 469.4,804.4 470.1,804.3 470.7,804.2 471.4,804.1 472.1,804.0 472.7,803.9 473.4,803.8 474.1,803.7 474.7,803.7 475.4,803.6 476.1,803.5 476.7,803.4 477.4,803.3 478.1,803.2 478.7,803.2 479.4,803.1 480.0,803.0 480.7,802.9 481.4,802.8 482.0,802.8 482.7,802.7 483.4,802.6 484.0,802.5 484.7,802.4 485.4,802.4 486.0,802.3 486.7,802.2 487.4,802.1 488.0,802.0 488.7,802.0 489.4,801.9 490.0,801.8 490.7,801.7 491.4,801.6 492.0,801.6 492.7,801.5 493.4,801.4 494.0,801.3 494.7,801.3 495.4,801.2 496.0,801.1 496.7,801.0 497.4,801.0 498.0,800.9 498.7,800.8 499.4,800.7 500.0,800.7 500.7,800.6 501.4,800.5 502.0,800.4 502.7,800.4 503.4,800.3 504.0,800.2 504.7,800.2 505.4,800.1 506.0,800.0 506.7,799.9 507.4,799.9 508.0,799.8 508.7,799.7 509.4,799.7 510.0,799.6 510.7,799.5 511.4,799.5 512.0,799.4 512.7,799.3 513.4,799.2 514.0,799.2 514.7,799.1 515.4,799.0 516.0,799.0 516.7,798.9 517.4,798.8 518.0,798.8 518.7,798.7 519.4,798.7 520.0,798.6 520.7,798.5 521.4,798.5 522.0,798.4 522.7,798.3 523.4,798.3 524.0,798.2 524.7,798.1 525.4,798.1 526.0,798.0 526.7,797.9 527.4,797.9 528.0,797.8 528.7,797.7 529.4,797.7 530.0,797.6 530.7,797.6 531.4,797.5 532.0,797.4 532.7,797.4 533.4,797.3 534.0,797.2 534.7,797.2 535.4,797.1 536.0,797.0 536.7,797.0 537.4,796.9 538.0,796.9 538.7,796.8 539.4,796.7 540.0,796.7 540.7,796.6 541.4,796.5 542.0,796.5 542.7,796.4 543.4,796.3 544.0,796.3 544.7,796.2 545.4,796.1 546.0,796.1 546.7,796.0 547.4,795.9 548.0,795.9 548.7,795.8 549.4,795.7 550.0,795.6 550.7,795.6 551.4,795.5 552.0,795.4 552.7,795.3 553.4,795.2 554.0,795.1 554.7,795.1 555.4,795.0 556.0,794.9 556.7,794.8 557.4,794.7 558.0,794.6 558.7,794.5 559.4,794.5 560.0,794.4 560.7,794.3 561.4,794.2 562.0,794.1 562.7,794.0 563.4,793.9 564.0,793.8 564.7,793.7 565.4,793.7 566.0,793.6 566.7,793.5 567.4,793.4 568.0,793.3 568.7,793.2 569.4,793.2 570.0,793.1 570.7,793.0 571.4,792.9 572.0,792.8 572.7,792.8 573.3,792.7 574.0,792.6 574.7,792.6 575.3,792.5 576.0,792.4 576.7,792.4 577.3,792.3 578.0,792.2 578.7,792.2 579.3,792.1 580.0,792.1 580.7,792.0 581.3,792.0 582.0,791.9 582.7,791.9 583.3,791.8 584.0,791.8 584.7,791.8 585.3,791.7 586.0,791.7 586.7,791.7 587.3,791.7 588.0,791.6 588.7,791.6 589.3,791.6 590.0,791.6 590.7,791.6 591.3,791.6 592.0,791.6 592.7,791.6 593.3,791.6 594.0,791.6 594.7,791.6 595.3,791.6 596.0,791.6 596.7,791.6 597.3,791.6 598.0,791.7 598.7,791.7 599.3,791.7 600.0,791.7 600.7,791.7 601.3,791.7 602.0,791.8 602.7,791.8 603.3,791.8 604.0,791.8 604.7,791.8 605.3,791.9 606.0,791.9 606.7,791.9 607.3,792.0 608.0,792.0 608.7,792.0 609.3,792.1 610.0,792.1 610.7,792.1 611.3,792.2 612.0,792.2 612.7,792.3 613.3,792.3 614.0,792.4 614.7,792.4 615.3,792.5 616.0,792.5 616.7,792.6 617.3,792.6 618.0,792.7 620.2,795.0 658.6,790.5 701.5,786.0 706.0,796.1 710.5,791.6 760.0,783.7 831.5,779.1 913.0,775.1 994.6,772.6 1050.0,771.0 1102.6,769.3 1205.2,765.2 1307.8,762.7 1380.0,761.1 1478.5,761.1 1482.6,763.1 1544.2,763.1 1550.3,765.2 1687.8,764.2 1689.9,767.2 1761.7,766.2 1764.9,768.1 1811.1,768.1 1814.7,770.8 1921.0,770.8" fill="none" stroke="#8c8c00" stroke-width="5.3" stroke-linejoin="round" stroke-linecap="butt" />
</g>
<line x1="224.0" y1="65.7" x2="224.0" y2="1160.8" stroke="#ffe3ee" stroke-width="5.6"/>
<line x1="224.0" y1="67.2" x2="224.0" y2="1160.8" stroke="#ff3a8e" stroke-width="5.5" stroke-dasharray="5.6 3.5"/>
<line x1="618.3" y1="65.7" x2="618.3" y2="1160.8" stroke="#ffe3ee" stroke-width="5.6"/>
<line x1="618.3" y1="67.2" x2="618.3" y2="1160.8" stroke="#ff3a8e" stroke-width="5.5" stroke-dasharray="5.6 3.5"/>
<line x1="1025.0" y1="65.7" x2="1025.0" y2="1160.8" stroke="#ffe3ee" stroke-width="5.6"/>
<line x1="1025.0" y1="67.2" x2="1025.0" y2="1160.8" stroke="#ff3a8e" stroke-width="5.5" stroke-dasharray="5.6 3.5"/>
<line x1="1857.0" y1="65.7" x2="1857.0" y2="1160.8" stroke="#ffe3ee" stroke-width="5.6"/>
<line x1="1857.0" y1="67.2" x2="1857.0" y2="1160.8" stroke="#ff3a8e" stroke-width="5.5" stroke-dasharray="5.6 3.5"/>
<rect x="154.5" y="62.7" width="1768.0" height="1100.6" fill="none" stroke="#111" stroke-width="4.4"/>
<line x1="154.8" y1="1163.3" x2="154.8" y2="1142.3" stroke="#111" stroke-width="4"/>
<line x1="393.6" y1="1163.3" x2="393.6" y2="1142.3" stroke="#111" stroke-width="4"/>
<line x1="632.4" y1="1163.3" x2="632.4" y2="1142.3" stroke="#111" stroke-width="4"/>
<line x1="871.2" y1="1163.3" x2="871.2" y2="1142.3" stroke="#111" stroke-width="4"/>
<line x1="1110.0" y1="1163.3" x2="1110.0" y2="1142.3" stroke="#111" stroke-width="4"/>
<line x1="1348.8" y1="1163.3" x2="1348.8" y2="1142.3" stroke="#111" stroke-width="4"/>
<line x1="1587.6" y1="1163.3" x2="1587.6" y2="1142.3" stroke="#111" stroke-width="4"/>
<line x1="1826.4" y1="1163.3" x2="1826.4" y2="1142.3" stroke="#111" stroke-width="4"/>
<line x1="154.5" y1="1077.7" x2="175.5" y2="1077.7" stroke="#111" stroke-width="4"/>
<line x1="154.5" y1="739.4" x2="175.5" y2="739.4" stroke="#111" stroke-width="4"/>
<line x1="154.5" y1="401.0" x2="175.5" y2="401.0" stroke="#111" stroke-width="4"/>
<line x1="154.5" y1="62.7" x2="175.5" y2="62.7" stroke="#111" stroke-width="4"/>
<line x1="154.5" y1="908.5" x2="165.0" y2="908.5" stroke="#111" stroke-width="4"/>
<line x1="154.5" y1="570.2" x2="165.0" y2="570.2" stroke="#111" stroke-width="4"/>
<line x1="154.5" y1="231.9" x2="165.0" y2="231.9" stroke="#111" stroke-width="4"/>
<text transform="translate(154.8,1235.5) scale(1,1.12)" font-family="Liberation Serif, Times New Roman, serif" font-size="63" text-anchor="middle" fill="#111" stroke="#fff" stroke-width="1.0">0</text>
<text transform="translate(393.6,1235.5) scale(1,1.12)" font-family="Liberation Serif, Times New Roman, serif" font-size="63" text-anchor="middle" fill="#111" stroke="#fff" stroke-width="1.0">500</text>
<text transform="translate(632.4,1235.5) scale(1,1.12)" font-family="Liberation Serif, Times New Roman, serif" font-size="63" text-anchor="middle" fill="#111" stroke="#fff" stroke-width="1.0">1000</text>
<text transform="translate(871.2,1235.5) scale(1,1.12)" font-family="Liberation Serif, Times New Roman, serif" font-size="63" text-anchor="middle" fill="#111" stroke="#fff" stroke-width="1.0">1500</text>
<text transform="translate(1110.0,1235.5) scale(1,1.12)" font-family="Liberation Serif, Times New Roman, serif" font-size="63" text-anchor="middle" fill="#111" stroke="#fff" stroke-width="1.0">2000</text>
<text transform="translate(1348.8,1235.5) scale(1,1.12)" font-family="Liberation Serif, Times New Roman, serif" font-size="63" text-anchor="middle" fill="#111" stroke="#fff" stroke-width="1.0">2500</text>
<text transform="translate(1587.6,1235.5) scale(1,1.12)" font-family="Liberation Serif, Times New Roman, serif" font-size="63" text-anchor="middle" fill="#111" stroke="#fff" stroke-width="1.0">3000</text>
<text transform="translate(1826.4,1235.5) scale(1,1.12)" font-family="Liberation Serif, Times New Roman, serif" font-size="63" text-anchor="middle" fill="#111" stroke="#fff" stroke-width="1.0">3500</text>
<text transform="translate(132,1096.5) scale(1,1.08)" font-family="Liberation Serif, Times New Roman, serif" font-size="63" text-anchor="end" fill="#111" stroke="#fff" stroke-width="1.0">0</text>
<text transform="translate(132,758.2) scale(1,1.08)" font-family="Liberation Serif, Times New Roman, serif" font-size="63" text-anchor="end" fill="#111" stroke="#fff" stroke-width="1.0">2</text>
<text transform="translate(132,419.8) scale(1,1.08)" font-family="Liberation Serif, Times New Roman, serif" font-size="63" text-anchor="end" fill="#111" stroke="#fff" stroke-width="1.0">4</text>
<text transform="translate(132,81.5) scale(1,1.08)" font-family="Liberation Serif, Times New Roman, serif" font-size="63" text-anchor="end" fill="#111" stroke="#fff" stroke-width="1.0">6</text>
<text x="1038" y="1312" font-family="Liberation Serif, Times New Roman, serif" font-size="63" text-anchor="middle" fill="#111">Performance period/s</text>
<text transform="translate(75,613) rotate(-90)" x="0" y="0" font-family="Liberation Serif, Times New Roman, serif" font-size="62.4" text-anchor="middle" fill="#111">Horizontal stress increment /MPa</text>
<text transform="translate(207,376) rotate(-90)" font-family="Liberation Serif, Times New Roman, serif" font-size="47" text-anchor="middle" fill="#111">Rock layer compression</text>
<text x="413.5" y="589" font-family="Liberation Serif, Times New Roman, serif" font-size="47" text-anchor="middle" fill="#111">Fault initiation</text>
<text x="831" y="431.5" font-family="Liberation Serif, Times New Roman, serif" font-size="47" text-anchor="middle" fill="#111">Fault extension</text>
<text x="1443" y="425.5" font-family="Liberation Serif, Times New Roman, serif" font-size="47" text-anchor="middle" fill="#111">Fault slip</text>
<text transform="translate(1875,354) rotate(90)" font-family="Liberation Serif, Times New Roman, serif" font-size="47" text-anchor="middle" fill="#111">Ultimate stability</text>
<line x1="225" y1="88.6" x2="301.5" y2="88.6" stroke="#0868dc" stroke-width="4.4"/>
<text x="306" y="98.0" font-family="Liberation Serif, Times New Roman, serif" font-size="31.5" fill="#111">Measurement Point 5#</text>
<line x1="225" y1="127.5" x2="301.5" y2="127.5" stroke="#555555" stroke-width="4.4"/>
<text x="306" y="136.9" font-family="Liberation Serif, Times New Roman, serif" font-size="31.5" fill="#111">Measurement Point 6#</text>
<line x1="225" y1="166.4" x2="301.5" y2="166.4" stroke="#ff3c3c" stroke-width="4.4"/>
<text x="306" y="175.8" font-family="Liberation Serif, Times New Roman, serif" font-size="31.5" fill="#111">Measurement Point 7#</text>
<line x1="225" y1="205.3" x2="301.5" y2="205.3" stroke="#33cc00" stroke-width="4.4"/>
<text x="306" y="214.7" font-family="Liberation Serif, Times New Roman, serif" font-size="31.5" fill="#111">Measurement Point 8#</text>
<line x1="225" y1="244.2" x2="301.5" y2="244.2" stroke="#00aa66" stroke-width="4.4"/>
<text x="306" y="253.6" font-family="Liberation Serif, Times New Roman, serif" font-size="31.5" fill="#111">Measurement Point 13#</text>
<line x1="225" y1="283.1" x2="301.5" y2="283.1" stroke="#00cfcf" stroke-width="4.4"/>
<text x="306" y="292.5" font-family="Liberation Serif, Times New Roman, serif" font-size="31.5" fill="#111">Measurement Point 14#</text>
<line x1="225" y1="322.0" x2="301.5" y2="322.0" stroke="#c872e0" stroke-width="4.4"/>
<text x="306" y="331.4" font-family="Liberation Serif, Times New Roman, serif" font-size="31.5" fill="#111">Measurement Point 15#</text>
<line x1="225" y1="360.9" x2="301.5" y2="360.9" stroke="#ff6600" stroke-width="4.4"/>
<text x="306" y="370.3" font-family="Liberation Serif, Times New Roman, serif" font-size="31.5" fill="#111">Measurement Point 16#</text>
<line x1="225" y1="399.8" x2="301.5" y2="399.8" stroke="#dd9a00" stroke-width="4.4"/>
<text x="306" y="409.2" font-family="Liberation Serif, Times New Roman, serif" font-size="31.5" fill="#111">Measurement Point 21#</text>
<line x1="225" y1="438.7" x2="301.5" y2="438.7" stroke="#8b4848" stroke-width="4.4"/>
<text x="306" y="448.1" font-family="Liberation Serif, Times New Roman, serif" font-size="31.5" fill="#111">Measurement Point 22#</text>
<line x1="225" y1="477.6" x2="301.5" y2="477.6" stroke="#8c8c00" stroke-width="4.4"/>
<text x="306" y="487.0" font-family="Liberation Serif, Times New Roman, serif" font-size="31.5" fill="#111">Measurement Point 23#</text>
<line x1="225" y1="516.5" x2="301.5" y2="516.5" stroke="#3399d6" stroke-width="4.4"/>
<text x="306" y="525.9" font-family="Liberation Serif, Times New Roman, serif" font-size="31.5" fill="#111">Measurement Point 24#</text>
</svg>
</body></html>
